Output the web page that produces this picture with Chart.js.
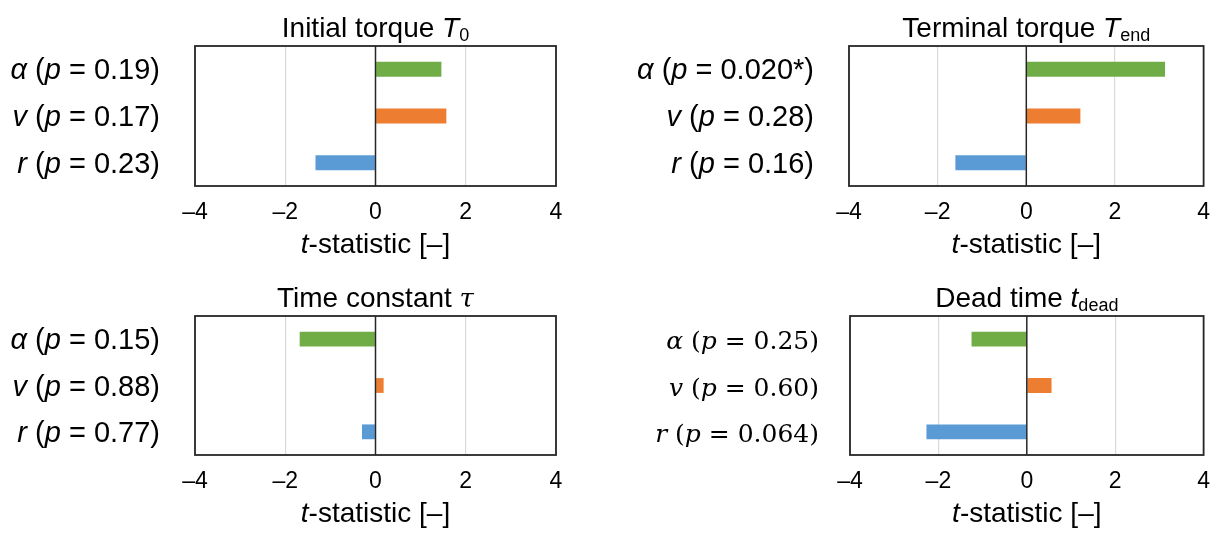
<!DOCTYPE html>
<html>
<head>
<meta charset="utf-8">
<script src="https://cdn.jsdelivr.net/npm/chart.js@4/dist/chart.umd.min.js"></script>
<style>
  html, body { margin: 0; padding: 0; background: #fff; }
  #wrap { position: relative; width: 1223px; height: 536px; overflow: hidden; }
  canvas { position: absolute; }
</style>
</head>
<body>
<div id="wrap">
  <canvas id="c1" width="600" height="268" style="left:0;top:0"></canvas>
  <canvas id="c2" width="612" height="268" style="left:611px;top:0"></canvas>
  <canvas id="c3" width="600" height="268" style="left:0;top:268px"></canvas>
  <canvas id="c4" width="612" height="268" style="left:611px;top:268px"></canvas>
</div>
<script>
// Regression factors (top to bottom) and their bar colours
const factors = ['α', 'v', 'r'];
const barColors = ['#70AD47', '#ED7D31', '#5B9BD5'];
const xTicks = [-4, -2, 0, 2, 4];

// t-statistics and p-values per response variable
const pInitial = ['0.19', '0.17', '0.23'];
const tInitial = [1.46, 1.57, -1.33];

const pTerminal = ['0.020*', '0.28', '0.16'];
const tTerminal = [3.13, 1.22, -1.60];

const pTau = ['0.15', '0.88', '0.77'];
const tTau = [-1.68, 0.18, -0.30];

const pDead = ['0.25', '0.60', '0.064'];
const tDead = [-1.25, 0.56, -2.27];

const SANS = '"Liberation Sans", Arial, sans-serif';
const SERIF = '"DejaVu Serif", "Liberation Serif", serif';
const TXT = 28;

function fontStr(s) {
  return (s.italic ? 'italic ' : '') + (s.size || TXT) + 'px ' + (s.family || SANS);
}

// Draws a run of differently styled text pieces on one baseline
function drawRich(ctx, segs, x, baseline, align) {
  let w = 0;
  const widths = segs.map(s => {
    ctx.font = fontStr(s);
    const sw = ctx.measureText(s.text).width;
    w += sw;
    return sw;
  });
  let cx = align === 'right' ? x - w : align === 'center' ? x - w / 2 : x;
  ctx.textAlign = 'left';
  ctx.textBaseline = 'alphabetic';
  segs.forEach((s, i) => {
    ctx.font = fontStr(s);
    ctx.fillText(s.text, cx, baseline + (s.dy || 0));
    cx += widths[i];
  });
}

function sansLabel(f, p) {
  const size = 29;
  return [
    { text: f, italic: true, size },
    { text: ' (', size },
    { text: 'p', italic: true, size },
    { text: ' = ' + p + ')', size }
  ];
}

function mathLabel(f, p) {
  const size = 25;
  return [
    { text: f, italic: true, family: SERIF, size },
    { text: ' (', family: SERIF, size },
    { text: 'p', italic: true, family: SERIF, size },
    { text: ' = ', family: SERIF, size },
    { text: p + ')', family: SERIF, size }
  ];
}

const axisTitle = [
  { text: 't', italic: true },
  { text: '-statistic [–]' }
];

const panels = {
  c1: {
    values: tInitial, p: pInitial, label: sansLabel, gap: 35,
    title: [{ text: 'Initial torque ' }, { text: 'T', italic: true }, { text: '0', size: 18, dy: 4 }]
  },
  c2: {
    values: tTerminal, p: pTerminal, label: sansLabel, gap: 35,
    title: [{ text: 'Terminal torque ' }, { text: 'T', italic: true }, { text: 'end', size: 18, dy: 4 }]
  },
  c3: {
    values: tTau, p: pTau, label: sansLabel, gap: 35,
    title: [{ text: 'Time constant ' }, { text: 'τ', italic: true, family: SERIF, size: 26 }]
  },
  c4: {
    values: tDead, p: pDead, label: mathLabel, gap: 31,
    title: [{ text: 'Dead time ' }, { text: 't', italic: true }, { text: 'dead', size: 18, dy: 4 }]
  }
};

// Frame, zero line, title, axis title and category labels
const panelDecor = {
  id: 'panelDecor',
  afterDraw(chart) {
    const cfg = panels[chart.canvas.id];
    const ctx = chart.ctx;
    const a = chart.chartArea;
    ctx.save();
    ctx.strokeStyle = '#262626';
    ctx.lineWidth = 1.5;
    const x0 = chart.scales.x.getPixelForValue(0);
    ctx.beginPath();
    ctx.moveTo(x0, a.top);
    ctx.lineTo(x0, a.bottom);
    ctx.stroke();
    ctx.lineWidth = 1.8;
    ctx.strokeRect(a.left, a.top, a.right - a.left, a.bottom - a.top);

    ctx.fillStyle = '#000';
    const cx = (a.left + a.right) / 2;
    drawRich(ctx, cfg.title, cx, a.top - 9, 'center');
    drawRich(ctx, axisTitle, cx, a.bottom + 67, 'center');
    factors.forEach((f, i) => {
      const y = chart.scales.y.getPixelForValue(i);
      drawRich(ctx, cfg.label(f, cfg.p[i]), a.left - cfg.gap, y + 10, 'right');
    });
    ctx.restore();
  }
};

function makeChart(id, leftWidth, rightPad, bottomHeight, topPad) {
  const cfg = panels[id];
  return new Chart(document.getElementById(id), {
    type: 'bar',
    data: {
      labels: factors,
      datasets: [{
        data: cfg.values,
        backgroundColor: barColors,
        borderWidth: 0,
        barPercentage: 0.32,
        categoryPercentage: 1.0
      }]
    },
    options: {
      indexAxis: 'y',
      responsive: false,
      animation: false,
      devicePixelRatio: 1,
      layout: { padding: { top: topPad, right: rightPad, left: 0, bottom: 0 } },
      plugins: { legend: { display: false }, tooltip: { enabled: false } },
      scales: {
        x: {
          min: xTicks[0],
          max: xTicks[xTicks.length - 1],
          afterBuildTicks: s => { s.ticks = xTicks.map(v => ({ value: v })); },
          afterFit: s => { s.height = bottomHeight; },
          border: { display: false },
          grid: {
            drawTicks: false,
            color: c => (c.tick && c.tick.value === 0) ? 'rgba(0,0,0,0)' : '#d9d9d9',
            lineWidth: 1.2
          },
          ticks: {
            padding: 13,
            color: '#000',
            font: { family: SANS, size: 23 },
            callback: v => (v < 0 ? '–' + Math.abs(v) : String(v))
          }
        },
        y: {
          afterFit: s => { s.width = leftWidth; },
          border: { display: false },
          grid: { display: false },
          ticks: { display: false }
        }
      }
    },
    plugins: [panelDecor]
  });
}

makeChart('c1', 195, 44, 82, 46);
makeChart('c2', 238, 13, 82, 46);
makeChart('c3', 195, 44, 81, 48);
makeChart('c4', 239, 12, 81, 48);
</script>
</body>
</html>
